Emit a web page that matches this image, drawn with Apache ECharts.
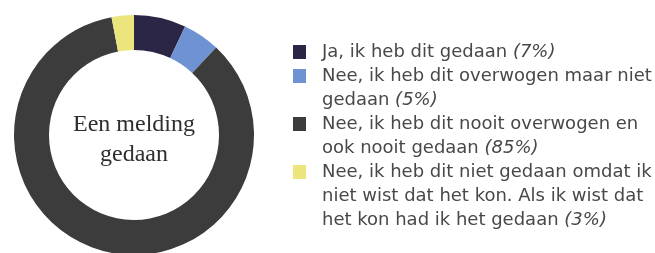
<!DOCTYPE html>
<html>
<head>
<meta charset="utf-8">
<script src="https://cdn.jsdelivr.net/npm/echarts@6/dist/echarts.min.js"></script>
<style>
  html, body { margin: 0; padding: 0; background: #fff; }
  #chart { width: 655px; height: 253px; }
</style>
</head>
<body>
<div id="chart"></div>
<script>
// antwoorden, in volgorde vanaf boven, met de klok mee
var names = [
  'Ja, ik heb dit gedaan',
  'Nee, ik heb dit overwogen maar niet gedaan',
  'Nee, ik heb dit nooit overwogen en ook nooit gedaan',
  'Nee, ik heb dit niet gedaan omdat ik niet wist dat het kon. Als ik wist dat het kon had ik het gedaan'
];
var nameLines = [
  ['Ja, ik heb dit gedaan'],
  ['Nee, ik heb dit overwogen maar niet', 'gedaan'],
  ['Nee, ik heb dit nooit overwogen en', 'ook nooit gedaan'],
  ['Nee, ik heb dit niet gedaan omdat ik', 'niet wist dat het kon. Als ik wist dat', 'het kon had ik het gedaan']
];
var values = [7, 5, 85, 3];
var colors = ['#2b2546', '#6e92d2', '#3c3c3c', '#ece47c'];
var centerText = 'Een melding\ngedaan';

var LH = 24;        // regelhoogte legenda
var FIRST = 52;     // midden eerste regel

var chart = echarts.init(document.getElementById('chart'));

var legends = [];
var lineIdx = 0;
names.forEach(function (nm, i) {
  var n = nameLines[i].length;
  var c = FIRST + LH * lineIdx;
  lineIdx += n;
  legends.push({
    data: [nm],
    orient: 'vertical',
    left: 293,
    top: c - (2 * n - 1) * LH / 2,
    padding: 0,
    itemWidth: 13,
    itemHeight: 14,
    icon: 'rect',
    selectedMode: false,
    formatter: function (name) {
      var k = names.indexOf(name);
      var ls = nameLines[k].slice();
      ls[ls.length - 1] += ' {p|(' + values[k] + '%)}';
      return ls.join('\n');
    },
    textStyle: {
      fontFamily: 'DejaVu Sans',
      fontSize: 18,
      color: '#484848',
      lineHeight: LH,
      padding: [(n - 1) * LH, 0, 0, 11],
      rich: {
        p: { fontFamily: 'DejaVu Sans', fontSize: 18, fontStyle: 'italic', color: '#484848', lineHeight: LH }
      }
    }
  });
});

chart.setOption({
  animation: false,
  color: colors,
  title: {
    text: centerText,
    left: 134,
    top: 110,
    padding: 0,
    textAlign: 'center',
    textStyle: {
      fontFamily: 'Liberation Serif',
      fontSize: 24,
      fontWeight: 'normal',
      lineHeight: 30,
      color: '#2e2e2e'
    }
  },
  legend: legends,
  series: [{
    type: 'pie',
    center: [134, 135],
    radius: [85, 120],
    startAngle: 90,
    clockwise: true,
    silent: true,
    label: { show: false },
    labelLine: { show: false },
    data: names.map(function (nm, i) { return { name: nm, value: values[i] }; })
  }]
});
</script>
</body>
</html>
